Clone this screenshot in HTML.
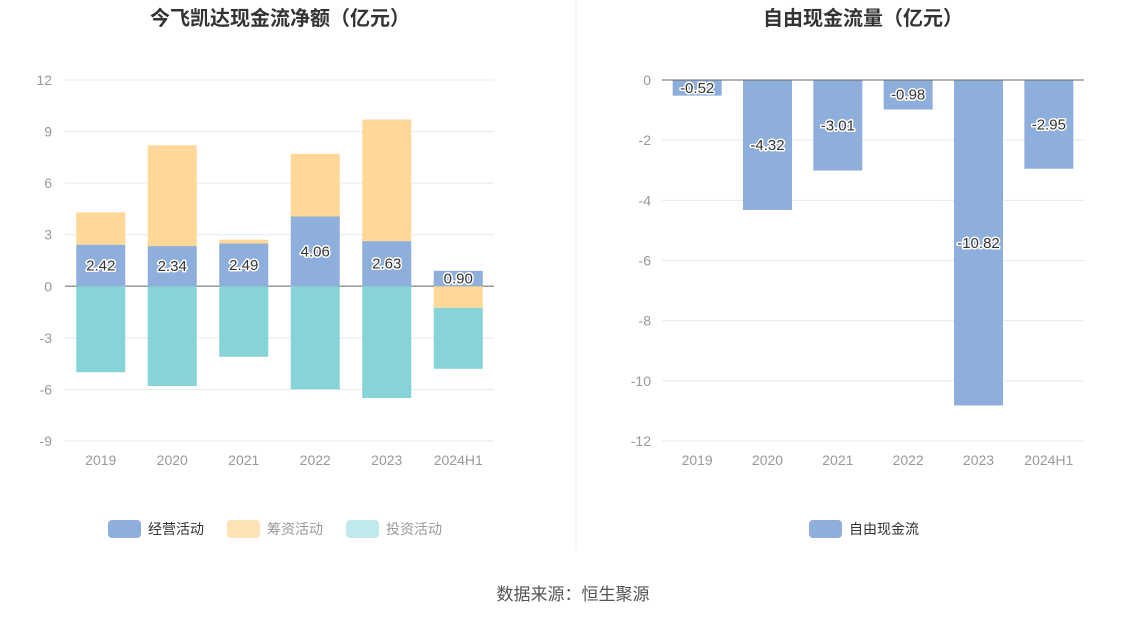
<!DOCTYPE html>
<html><head><meta charset="utf-8">
<style>
body{margin:0;background:#fff;width:1147px;height:619px;overflow:hidden;font-family:"Liberation Sans","Noto Sans CJK SC",sans-serif;}
svg text{font-family:"Liberation Sans","Noto Sans CJK SC",sans-serif;}
</style></head>
<body>
<svg id="c" width="1147" height="619" xmlns="http://www.w3.org/2000/svg">
<text x="280" y="25" text-anchor="middle" font-size="20" font-weight="bold" fill="#333">今飞凯达现金流净额（亿元）</text>
<text x="863" y="25" text-anchor="middle" font-size="20" font-weight="bold" fill="#333">自由现金流量（亿元）</text>
<line x1="576" y1="0" x2="576" y2="550" stroke="#eee"/>
<g id="left"></g><g id="right"></g>
<g>
<rect x="108" y="520" width="33" height="18" rx="4" fill="#8eaedb"/>
<text x="148" y="534" font-size="14" fill="#333">经营活动</text>
<rect x="227" y="520" width="33" height="18" rx="4" fill="#fde3b5"/>
<text x="267" y="534" font-size="14" fill="#999">筹资活动</text>
<rect x="346" y="520" width="33" height="18" rx="4" fill="#bfe9ea"/>
<text x="386" y="534" font-size="14" fill="#999">投资活动</text>
</g>
<g>
<rect x="809" y="520" width="33" height="18" rx="4" fill="#8eaedb"/>
<text x="849" y="534" font-size="14" fill="#333">自由现金流</text>
</g>
<text x="573" y="600" text-anchor="middle" font-size="17" fill="#555">数据来源：恒生聚源</text>
</svg>
<script>
const categories=["2019","2020","2021","2022","2023","2024H1"];
const operating=[2.42,2.34,2.49,4.06,2.63,0.90];
const financing=[1.88,5.86,0.22,3.64,7.07,-1.25];
const investing=[-5.0,-5.8,-4.1,-6.0,-6.5,-3.55];
const leftTicks=[12,9,6,3,0,-3,-6,-9];
const fcf=[-0.52,-4.32,-3.01,-0.98,-10.82,-2.95];
const rightTicks=[0,-2,-4,-6,-8,-10,-12];
const NS="http://www.w3.org/2000/svg";
function mk(tag,attrs,parent,txt){const e=document.createElementNS(NS,tag);for(const k in attrs)e.setAttribute(k,attrs[k]);if(txt!==undefined)e.textContent=txt;parent.appendChild(e);return e;}
function label(g,x,y,t){
 const a=mk('text',{x:x,y:y,'text-anchor':'middle','font-size':15,fill:'#fff',stroke:'#fff','stroke-width':3,'stroke-linejoin':'round'},g,t);
 
 const b=mk('text',{x:x,y:y,'text-anchor':'middle','font-size':15,fill:'#333'},g,t);
 
}
// left chart
(function(){
 const g=document.getElementById('left');
 const x0=65,x1=494,yTop=80,yBot=441,vMax=12,vMin=-9;
 const y=v=>yTop+(vMax-v)*(yBot-yTop)/(vMax-vMin);
 const bw=(x1-x0)/categories.length;
 const cx=i=>x0+bw*(i+0.5);
 leftTicks.forEach(t=>{
  const l=mk('line',{x1:x0,x2:x1,y1:y(t),y2:y(t),stroke:t===0?'#999':'#e6e9f2','stroke-width':t===0?1.5:1},g);
  
  const tx=mk('text',{x:52,y:y(t)+5,'text-anchor':'end','font-size':14,fill:'#999'},g,String(t));
  
 });
 categories.forEach((c,i)=>{
  const w=49,xl=cx(i)-w/2;
  const op=operating[i],fi=financing[i],iv=investing[i];
  const r1=mk('rect',{x:xl,width:w,y:y(Math.max(op,0)),height:Math.abs(y(op)-y(0)),fill:'#8eaedb'},g);
  
  let fb=fi>=0?op:0;
  const r2=mk('rect',{x:xl,width:w,y:fi>=0?y(fb+fi):y(0),height:Math.abs(y(fi)-y(0)),fill:'#ffd797'},g);
  
  const neg=fi<0?fi:0;
  const r3=mk('rect',{x:xl,width:w,y:y(neg),height:Math.abs(y(iv)-y(0)),fill:'#86d4d8'},g);
  
  label(g,cx(i),y(op/2)+5,op.toFixed(2));
  const t=mk('text',{x:cx(i),y:465,'text-anchor':'middle','font-size':14,fill:'#999'},g,c);
  
 });
})();
// right chart
(function(){
 const g=document.getElementById('right');
 const x0=662,x1=1084,yTop=80,yBot=441,vMax=0,vMin=-12;
 const y=v=>yTop+(vMax-v)*(yBot-yTop)/(vMax-vMin);
 const bw=(x1-x0)/categories.length;
 const cx=i=>x0+bw*(i+0.5);
 rightTicks.forEach(t=>{
  if(t!==0){const l=mk('line',{x1:x0,x2:x1,y1:y(t),y2:y(t),stroke:'#e6e9f2'},g);
  }
  const tx=mk('text',{x:651,y:y(t)+5,'text-anchor':'end','font-size':14,fill:'#999'},g,String(t));
  
 });
 categories.forEach((c,i)=>{
  const w=49;
  const r=mk('rect',{x:cx(i)-w/2,width:w,y:y(0),height:y(fcf[i])-y(0),fill:'#8eaedb'},g);
  
  label(g,cx(i),y(fcf[i]/2)+5,fcf[i].toFixed(2));
  const t=mk('text',{x:cx(i),y:465,'text-anchor':'middle','font-size':14,fill:'#999'},g,c);
  
 });
 const z=mk('line',{x1:x0,x2:x1,y1:y(0),y2:y(0),stroke:'#666','stroke-width':1},g);
 
})();
</script>
</body></html>
